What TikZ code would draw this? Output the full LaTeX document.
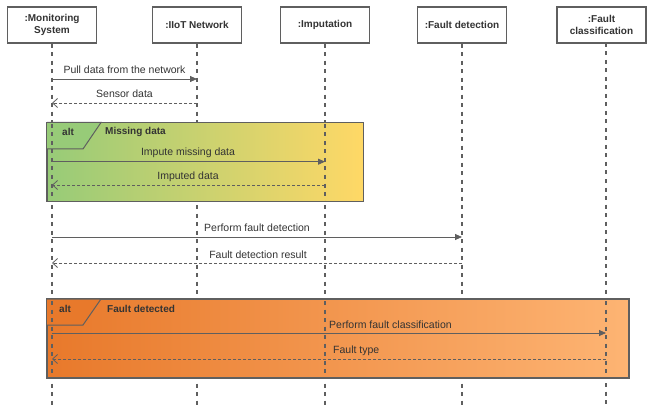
\documentclass[tikz,border=0pt]{standalone}
\usepackage{fontspec}
\setmainfont{Liberation Sans}
\usetikzlibrary{arrows.meta}
\definecolor{linegray}{HTML}{5F5F5F}
\definecolor{txt}{HTML}{333333}
\definecolor{greenL}{HTML}{97CB78}
\definecolor{yellowR}{HTML}{FFD866}
\definecolor{orangeL}{HTML}{E8792B}
\definecolor{orangeR}{HTML}{FDB473}
\begin{document}
\begin{tikzpicture}[x=1pt,y=-1pt,
 head/.style={draw=linegray, line width=1.2pt, fill=white, minimum width=89pt, minimum height=36pt, inner sep=0pt, align=center, font=\fontsize{10}{11.5}\selectfont\bfseries, text=txt},
 life/.style={draw=linegray, line width=1.5pt, dash pattern=on 4pt off 4.5pt},
 call/.style={draw=linegray, line width=0.8pt, -{Triangle[length=7pt,width=6pt]}},
 reply/.style={draw=linegray, line width=0.8pt, dash pattern=on 3pt off 2pt, -{Straight Barb[length=5pt,width=9pt]}},
 lbl/.style={font=\fontsize{10.5}{12}\selectfont, text=txt, inner sep=0pt},
 frame/.style={draw=linegray, line width=1.2pt},
 tab/.style={draw=linegray, line width=1pt},
 ftitle/.style={font=\fontsize{10}{12}\selectfont\bfseries, text=txt, inner sep=0pt, anchor=west}
]
\useasboundingbox (0,0) rectangle (647,406);

% lifeline heads
\node[head] (mon) at (52,25) {:Monitoring\\System};
\node[head] (iiot) at (197,25) {:IIoT Network};
\node[head] (imp) at (325,25) {:Imputation};
\node[head] (fd) at (462,25) {:Fault detection};
\node[head] (fc) at (601.5,25) {:Fault\\classification};
\coordinate (fcl) at (606,43);

% lifelines
\draw[life] (mon.south) -- (mon.south |- 0,406);
\draw[life] (iiot.south) -- (iiot.south |- 0,406);
\draw[life] (imp.south) -- (imp.south |- 0,406);
\draw[life] (fd.south) -- (fd.south |- 0,406);
\draw[life] (fcl) -- (fcl |- 0,406);

% combined fragments
\shade[left color=greenL, right color=yellowR] (47,122.5) rectangle (363.5,201.5);
\draw[frame] (47,122.5) rectangle (363.5,201.5);
\draw[tab, fill=greenL] (47,122.5) -- (101,122.5) -- (83,149) -- (47,149);
\node[ftitle] (alt1) at (62,132) {alt};
\node[ftitle] (g1) at (105,132) {Missing data};
\draw[life] (mon |- 0,124) -- (mon |- 0,201);
\draw[life] (imp |- 0,124) -- (imp |- 0,201);

\shade[left color=orangeL, right color=orangeR] (47,299) rectangle (629,378);
\draw[frame] (47,299) rectangle (629,378);
\draw[tab, fill=orangeL] (47,299) -- (101,299) -- (83,325) -- (47,325);
\node[ftitle] (alt2) at (59,309) {alt};
\node[ftitle] (g2) at (107,309) {Fault detected};
\draw[life] (mon |- 0,301) -- (mon |- 0,378);
\draw[life] (imp |- 0,301) -- (imp |- 0,378);
\draw[life] (fcl |- 0,301) -- (fcl |- 0,378);

% messages
\draw[call] (mon |- 0,79) -- (iiot |- 0,79);
\node[lbl] (t1) at (124.5,70) {Pull data from the network};
\draw[reply] (iiot |- 0,103) -- (mon |- 0,103);
\node[lbl] (t2) at (124.5,94) {Sensor data};

\draw[call] (mon |- 0,161.7) -- (imp |- 0,161.7);
\node[lbl] (t3) at (188,153) {Impute missing data};
\draw[reply] (imp |- 0,185) -- (mon |- 0,185);
\node[lbl] (t4) at (188,177) {Imputed data};

\draw[call] (mon |- 0,237) -- (fd |- 0,237);
\node[lbl] (t5) at (257,228) {Perform fault detection};
\draw[reply] (fd |- 0,263) -- (mon |- 0,263);
\node[lbl] (t6) at (258,255) {Fault detection result};

\draw[call] (mon |- 0,333) -- (fcl |- 0,333);
\node[lbl, anchor=west] (t7) at (329,325) {Perform fault classification};
\draw[reply] (fcl |- 0,359) -- (mon |- 0,359);
\node[lbl, anchor=west] (t8) at (333,351) {Fault type};
\end{tikzpicture}
\end{document}
